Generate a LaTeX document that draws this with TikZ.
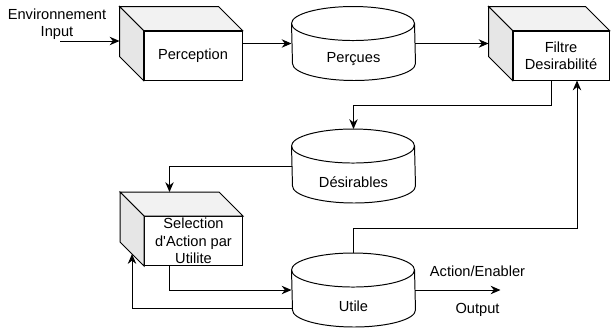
\documentclass[tikz,border=0pt]{standalone}
\usepackage{fontspec}
\setmainfont{Liberation Sans}
\usetikzlibrary{arrows.meta,positioning}
\definecolor{cubetop}{HTML}{F2F2F2}
\definecolor{cubeside}{HTML}{E6E6E6}
\tikzset{
  cubebox/.style={draw, fill=white, minimum width=98*0.025cm, minimum height=49*0.025cm, align=center, inner sep=0pt},
  storebox/.style={minimum width=123*0.025cm, minimum height=73*0.025cm, inner sep=0pt, label={[shift={(0,16)}]center:#1}},
  capr/.style={x radius=61.5*0.025cm, y radius=17*0.025cm},
  flow/.style={draw, -{Stealth[length=7pt,width=6pt]}},
}
\begin{document}
\begin{tikzpicture}[x=0.025cm, y=-0.025cm, line width=0.7pt, font=\fontsize{10.4}{12.4}\selectfont]
    \useasboundingbox (0,0) rectangle (611,332);
    \node (perception) at (193,55.5) [cubebox] {Perception};
    \node (percues) at (353.5,43.5) [storebox=Perçues] {};
    \node (filtre) at (561,55.5) [cubebox, minimum width=96*0.025cm] {Filtre\\Desirabilité};
    \node (desirables) at (353.5,166) [storebox=Désirables] {};
    \node (selection) at (193.5,241) [cubebox] {Selection\\d\textquotesingle Action par\\Utilite};
    \node (utile) at (353.5,290) [storebox=Utile] {};
    % cube faces
    \foreach \n in {perception,filtre,selection} {
        \path [draw,fill=cubetop] (\n.north west) -- ([shift={(-24,-24)}]\n.north west) -- ([shift={(-24,-24)}]\n.north east) -- (\n.north east) -- cycle;
        \path [draw,fill=cubeside] (\n.north west) -- ([shift={(-24,-24)}]\n.north west) -- ([shift={(-24,-24)}]\n.south west) -- (\n.south west) -- cycle;
        \coordinate (\n-back) at ([shift={(-24,0)}]\n.west);
    }
    % cylinders
    \foreach \n in {percues,desirables,utile} {
        \path [draw] ([shift={(0,17)}]\n.north west) arc [start angle=180, end angle=0, capr] -- ([shift={(0,-17)}]\n.south east) arc [start angle=0, end angle=-180, capr] -- cycle;
        \path [draw] ([shift={(0,17)}]\n.north west) arc [start angle=180, end angle=360, capr];
    }
    \node (envtext) at (57,24) [align=center] {Environnement\\Input};
    \coordinate (envin) at (60,41);
    \coordinate (selin) at ([shift={(-12,13)}]selection.west);
    \coordinate (actionout) at ([shift={(85,0)}]utile.east);
    \path [flow] (envin) -- (envin -| perception-back);
    \path [flow] (perception.east |- percues.west) -- (percues.west);
    \path [flow] (percues.east) -- (percues.east -| filtre-back);
    \path [flow] ([shift={(-10,0)}]filtre.south) -- ++(0,25) -| (desirables.north);
    \path [flow] (desirables.west) -| ([shift={(-24,-24)}]selection.north);
    \path [flow] ([shift={(-24,0)}]selection.south) |- (utile.west);
    \path [flow] ([shift={(0,18)}]utile.west) -| (selin);
    \path [flow] (utile.north) -- ++(0,-25) -| ([shift={(16,0)}]filtre.south);
    \path [flow] (utile.east) -- (actionout) node [pos=0.73, above=6pt] {Action/Enabler} node [pos=0.73, below=6pt] {Output};
\end{tikzpicture}
\end{document}
